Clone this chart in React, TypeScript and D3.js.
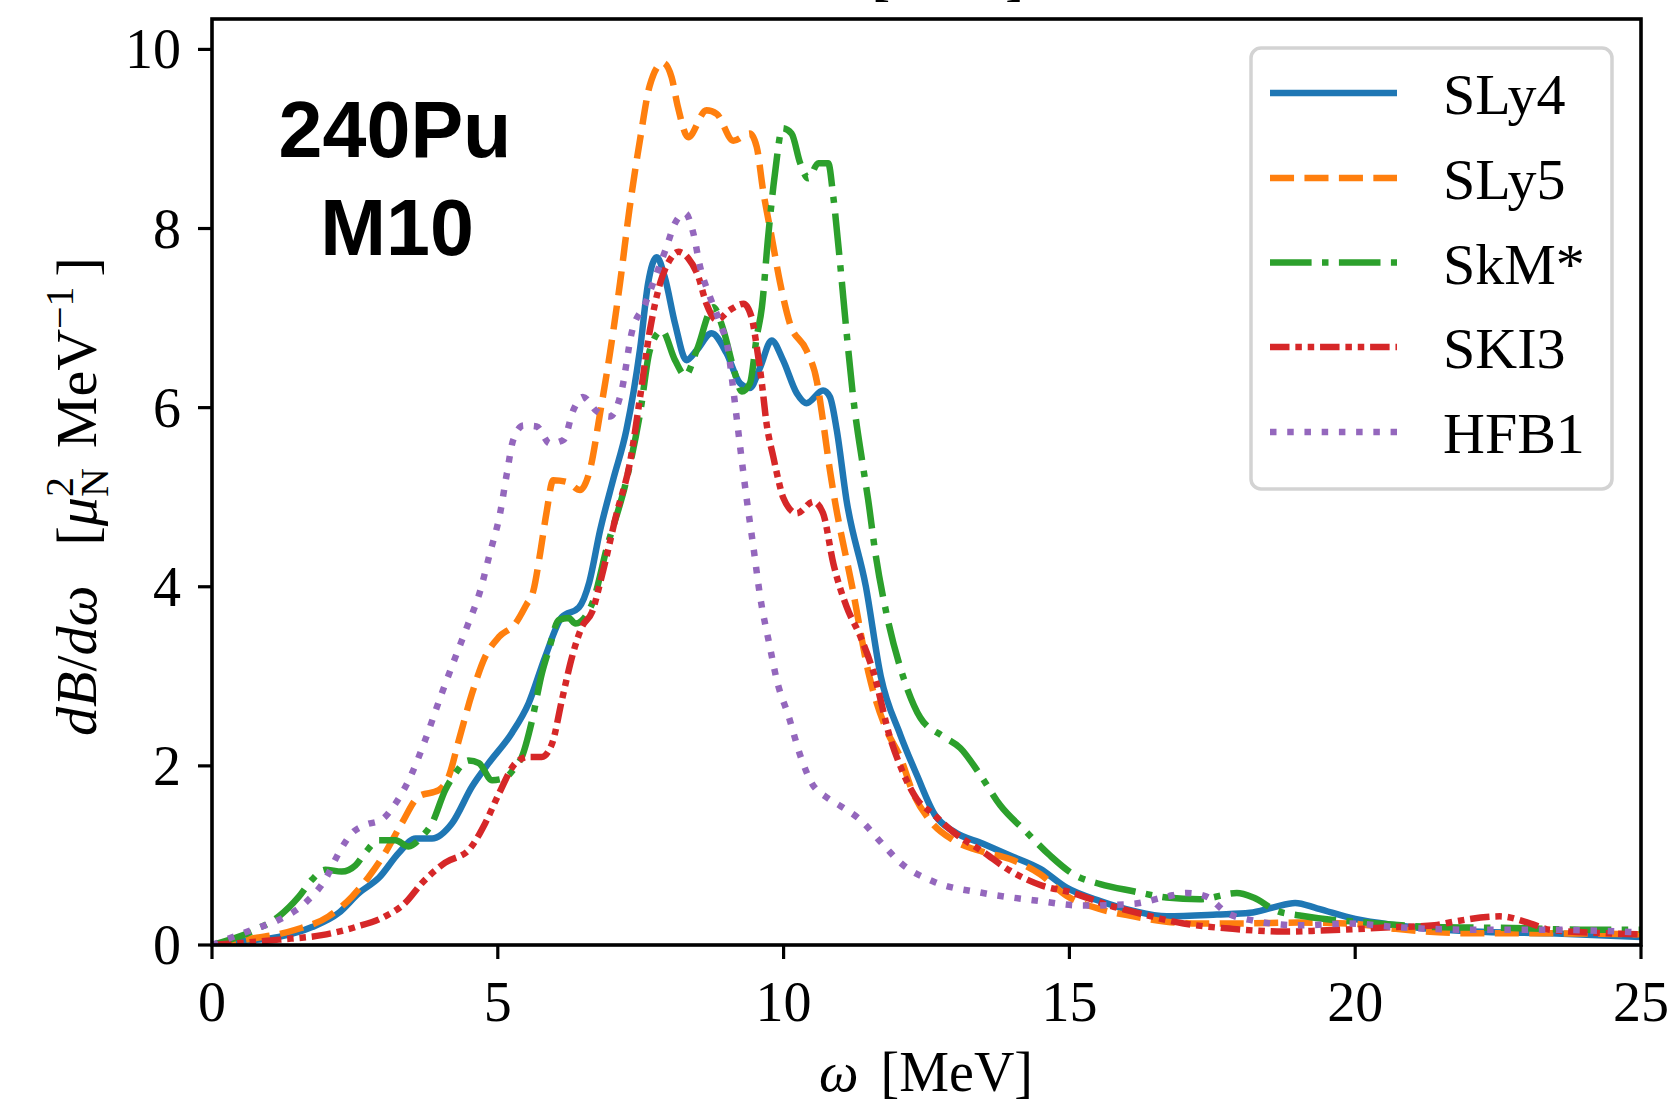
import React from "react";
import * as d3 from "d3";

type Pt = [number, number];

// ---- data (omega [MeV], dB/domega) ----
const SLY4: Pt[] = [
  [0, 0], [0.5, 0.04], [1.17, 0.09], [1.75, 0.2], [2.22, 0.36], [2.57, 0.58], [2.92, 0.75],
  [3.27, 1.03], [3.56, 1.19], [3.85, 1.19], [4.2, 1.36], [4.55, 1.77], [4.84, 2.03],
  [5.25, 2.37], [5.54, 2.7], [5.83, 3.22], [6.12, 3.66], [6.42, 3.77], [6.6, 4.05],
  [6.79, 4.63], [7.02, 5.2], [7.25, 5.75], [7.49, 6.66], [7.63, 7.39], [7.78, 7.68],
  [7.92, 7.46], [8.1, 6.94], [8.3, 6.53], [8.48, 6.64], [8.74, 6.83], [9.0, 6.61],
  [9.24, 6.27], [9.41, 6.22], [9.59, 6.45], [9.79, 6.75], [9.99, 6.53], [10.23, 6.16],
  [10.4, 6.05], [10.69, 6.19], [10.81, 6.12], [10.93, 5.75], [11.1, 4.97], [11.44, 4.0],
  [11.7, 3.0], [12.04, 2.35], [12.33, 1.9], [12.65, 1.45], [12.97, 1.27], [13.49, 1.13],
  [13.96, 1.0], [14.49, 0.85], [14.95, 0.64], [15.54, 0.49], [16.12, 0.38], [16.7, 0.32],
  [17.58, 0.34], [18.16, 0.36], [18.57, 0.42], [18.95, 0.47], [19.33, 0.41], [20.0, 0.29],
  [20.71, 0.22], [22.06, 0.15], [23.41, 0.13], [25.0, 0.09],
];

const SLY5: Pt[] = [
  [0, 0], [0.58, 0.06], [1.46, 0.17], [2.04, 0.32], [2.45, 0.54], [2.74, 0.76], [3.03, 1.03],
  [3.32, 1.36], [3.62, 1.66], [3.97, 1.73], [4.14, 1.88], [4.32, 2.29], [4.55, 2.81],
  [4.78, 3.22], [5.02, 3.44], [5.31, 3.59], [5.5, 3.8], [5.62, 3.95], [5.74, 4.37],
  [5.85, 4.82], [5.97, 5.19], [6.21, 5.17], [6.44, 5.08], [6.61, 5.3], [6.79, 5.94],
  [6.96, 6.6], [7.14, 7.4], [7.3, 8.2], [7.49, 9.0], [7.66, 9.6], [7.89, 9.85], [8.04, 9.69],
  [8.15, 9.36], [8.33, 9.02], [8.65, 9.32], [8.83, 9.28], [9.12, 8.98], [9.41, 9.06],
  [9.53, 8.91], [9.64, 8.43], [9.79, 7.91], [9.94, 7.39], [10.11, 6.94], [10.4, 6.64],
  [10.58, 6.3], [10.69, 5.85], [10.81, 5.3], [10.9, 4.95], [11.2, 4.0], [11.5, 3.0],
  [11.8, 2.4], [12.04, 2.1], [12.27, 1.69], [12.56, 1.39], [12.97, 1.17], [13.49, 1.04],
  [13.96, 0.96], [14.49, 0.79], [14.95, 0.55], [15.54, 0.4], [16.12, 0.32], [16.7, 0.26],
  [17.28, 0.24], [17.86, 0.24], [19.03, 0.25], [19.9, 0.24], [20.71, 0.18], [22.06, 0.13],
  [23.41, 0.13], [25.0, 0.12],
];

const SKMS: Pt[] = [
  [0, 0], [0.76, 0.17], [1.17, 0.32], [1.52, 0.54], [1.75, 0.73], [1.98, 0.84], [2.27, 0.82],
  [2.51, 0.89], [2.68, 1.03], [2.92, 1.17], [3.21, 1.17], [3.44, 1.1], [3.67, 1.21],
  [3.85, 1.36], [4.08, 1.73], [4.26, 1.92], [4.49, 2.06], [4.67, 2.03], [4.9, 1.84],
  [5.1, 1.86], [5.31, 1.99], [5.42, 2.1], [5.6, 2.51], [5.77, 3.03], [5.89, 3.29],
  [6.07, 3.63], [6.24, 3.65], [6.36, 3.59], [6.65, 3.81], [6.91, 4.44], [7.25, 5.19],
  [7.49, 5.94], [7.66, 6.64], [7.87, 6.86], [8.1, 6.53], [8.28, 6.36], [8.48, 6.64],
  [8.77, 7.12], [8.95, 6.86], [9.12, 6.45], [9.27, 6.18], [9.41, 6.27], [9.53, 6.79],
  [9.62, 7.12], [9.73, 7.91], [9.85, 8.62], [9.98, 9.12], [10.14, 9.06], [10.29, 8.73],
  [10.43, 8.56], [10.61, 8.73], [10.78, 8.73], [10.87, 8.35], [10.99, 7.6], [11.1, 6.85],
  [11.22, 6.1], [11.39, 5.34], [11.48, 4.97], [11.6, 4.4], [11.8, 3.7], [12.04, 3.1],
  [12.17, 2.85], [12.39, 2.54], [12.79, 2.33], [13.09, 2.2], [13.44, 1.9], [13.79, 1.56],
  [14.25, 1.26], [14.66, 1.0], [15.07, 0.79], [15.54, 0.68], [16.12, 0.6], [16.7, 0.53],
  [17.28, 0.51], [17.93, 0.58], [18.22, 0.53], [18.63, 0.38], [19.03, 0.33], [19.62, 0.28],
  [20.04, 0.26], [21.39, 0.2], [22.73, 0.19], [24.08, 0.17], [25.0, 0.17],
];

const SKI3: Pt[] = [
  [0, 0], [1.17, 0.06], [1.92, 0.11], [2.51, 0.2], [3.03, 0.32], [3.38, 0.47], [3.67, 0.69],
  [4.08, 0.92], [4.49, 1.06], [4.78, 1.36], [5.02, 1.69], [5.31, 2.03], [5.54, 2.1],
  [5.77, 2.1], [5.95, 2.25], [6.12, 2.73], [6.3, 3.22], [6.47, 3.55], [6.65, 3.72],
  [6.82, 4.12], [7.08, 4.82], [7.31, 5.38], [7.49, 6.12], [7.66, 6.86], [7.84, 7.39],
  [8.01, 7.65], [8.16, 7.74], [8.33, 7.67], [8.51, 7.46], [8.65, 7.16], [8.83, 6.98],
  [9.06, 7.09], [9.3, 7.16], [9.44, 7.01], [9.53, 6.68], [9.62, 6.27], [9.7, 5.83],
  [9.82, 5.45], [9.91, 5.19], [9.99, 5.0], [10.23, 4.82], [10.52, 4.95], [10.69, 4.82],
  [10.87, 4.26], [11.1, 3.78], [11.34, 3.45], [11.57, 3.05], [11.87, 2.3], [12.04, 2.0],
  [12.33, 1.63], [12.62, 1.46], [12.97, 1.26], [13.49, 1.04], [13.96, 0.83], [14.49, 0.67],
  [15.07, 0.58], [15.65, 0.45], [16.24, 0.35], [17.0, 0.24], [17.86, 0.18], [18.74, 0.15],
  [19.37, 0.16], [20.71, 0.2], [21.39, 0.22], [21.72, 0.26], [22.53, 0.32], [23.07, 0.24],
  [23.41, 0.17], [24.42, 0.13], [25.0, 0.12],
];

const HFB1: Pt[] = [
  [0, 0], [0.7, 0.17], [1.17, 0.28], [1.63, 0.47], [1.98, 0.73], [2.22, 1.03], [2.45, 1.25],
  [2.68, 1.34], [2.97, 1.4], [3.21, 1.58], [3.5, 1.92], [3.73, 2.29], [4.02, 2.81],
  [4.25, 3.2], [4.46, 3.55], [4.69, 3.95], [4.86, 4.37], [5.04, 4.82], [5.16, 5.27],
  [5.27, 5.64], [5.45, 5.8], [5.68, 5.79], [5.91, 5.6], [6.15, 5.64], [6.32, 5.97],
  [6.49, 6.12], [6.73, 5.96], [6.96, 5.9], [7.17, 6.2], [7.34, 6.83], [7.58, 7.16],
  [7.78, 7.5], [7.95, 7.79], [8.1, 8.06], [8.28, 8.17], [8.42, 7.95], [8.54, 7.57],
  [8.71, 7.24], [8.89, 6.94], [9.03, 6.64], [9.12, 6.2], [9.24, 5.56], [9.35, 5.0],
  [9.47, 4.45], [9.59, 3.89], [9.76, 3.33], [9.88, 2.96], [10.09, 2.55], [10.3, 2.1],
  [10.5, 1.8], [10.75, 1.65], [11.0, 1.55], [11.3, 1.42], [11.77, 1.1], [12.04, 0.92],
  [12.62, 0.71], [13.49, 0.58], [14.37, 0.5], [15.24, 0.44], [16.12, 0.46], [16.7, 0.54],
  [17.05, 0.58], [17.4, 0.54], [17.75, 0.36], [18.16, 0.28], [19.03, 0.22], [19.91, 0.24],
  [20.71, 0.2], [22.06, 0.17], [23.41, 0.17], [25.0, 0.14],
];

const SERIES_NAMES = ["SLy4", "SLy5", "SkM*", "SKI3", "HFB1"];
const SERIES_DATA = [SLY4, SLY5, SKMS, SKI3, HFB1];
const X_TICKS = [0, 5, 10, 15, 20, 25];
const Y_TICKS = [0, 2, 4, 6, 8, 10];

// ---- styling ----
const W = 1672;
const H = 1103;
const LEFT = 212;
const RIGHT = 1641;
const TOP = 19;
const BOTTOM = 945;
const LW = 6.5;
const COLORS = ["#1f77b4", "#ff7f0e", "#2ca02c", "#d62728", "#9467bd"];
const DASHES = [
  "none",
  `${3.7 * LW},${1.6 * LW}`,
  `${6.4 * LW},${1.6 * LW},${1 * LW},${1.6 * LW}`,
  `${3 * LW},${0.9 * LW},${1 * LW},${0.9 * LW},${1 * LW},${0.9 * LW}`,
  `${1 * LW},${1.65 * LW}`,
];
const SERIF = "'Liberation Serif', 'Times New Roman', Times, serif";
const SANS = "'Liberation Sans', Arial, Helvetica, sans-serif";
const FS = 56;

export default function App() {
  const x = d3.scaleLinear().domain([0, 25]).range([LEFT, RIGHT]);
  const y = d3.scaleLinear().domain([0, 10]).range([BOTTOM, 49.4]);
  const line = d3
    .line<Pt>()
    .x((d) => x(d[0]))
    .y((d) => y(d[1]))
    .curve(d3.curveMonotoneX);

  const legX0 = 1270;
  const legX1 = 1397;
  const legRows = [93, 178, 262.5, 347, 432];

  return (
    <svg
      width={W}
      height={H}
      viewBox={`0 0 ${W} ${H}`}
      style={{ position: "absolute", left: 0, top: 0, background: "#fff" }}
    >
      <rect x={0} y={0} width={W} height={H} fill="#fff" />
      <defs>
        <clipPath id="plotclip">
          <rect x={LEFT} y={TOP} width={RIGHT - LEFT} height={BOTTOM - TOP} />
        </clipPath>
      </defs>

      {/* partial label of the panel above (clipped by the page edge, as in the original) */}
      <text x={917} y={-6} fontFamily={SERIF} fontSize={FS} textAnchor="middle">
        <tspan fontStyle="italic">ω</tspan>
        <tspan dx={22}>[MeV]</tspan>
      </text>

      {/* curves */}
      <g clipPath="url(#plotclip)">
        {SERIES_DATA.map((d, i) => (
          <path
            key={SERIES_NAMES[i]}
            d={line(d) || ""}
            fill="none"
            stroke={COLORS[i]}
            strokeWidth={LW}
            strokeDasharray={DASHES[i]}
            strokeLinejoin="round"
            strokeLinecap={i === 0 ? "square" : "butt"}
          />
        ))}
      </g>

      {/* frame */}
      <rect
        x={LEFT}
        y={TOP}
        width={RIGHT - LEFT}
        height={BOTTOM - TOP}
        fill="none"
        stroke="#000"
        strokeWidth={3.6}
      />

      {/* x ticks */}
      {X_TICKS.map((t) => (
        <g key={"xt" + t}>
          <line x1={x(t)} x2={x(t)} y1={BOTTOM} y2={BOTTOM + 14} stroke="#000" strokeWidth={3.2} />
          <text x={x(t)} y={1021} textAnchor="middle" fontFamily={SERIF} fontSize={FS}>
            {t}
          </text>
        </g>
      ))}

      {/* y ticks */}
      {Y_TICKS.map((t) => (
        <g key={"yt" + t}>
          <line x1={LEFT - 14} x2={LEFT} y1={y(t)} y2={y(t)} stroke="#000" strokeWidth={3.2} />
          <text x={181} y={y(t) + 19} textAnchor="end" fontFamily={SERIF} fontSize={FS}>
            {t}
          </text>
        </g>
      ))}

      {/* x label */}
      <text x={926} y={1091} textAnchor="middle" fontFamily={SERIF} fontSize={FS}>
        <tspan fontStyle="italic">ω</tspan>
        <tspan dx={22}>[MeV]</tspan>
      </text>

      {/* y label */}
      <g transform="translate(96,736) rotate(-90)">
        <text x={0} y={0} textAnchor="start" fontFamily={SERIF} fontSize={58}>
          <tspan fontStyle="italic">dB</tspan>
          <tspan>/</tspan>
          <tspan fontStyle="italic">dω</tspan>
          <tspan dx={40}>[</tspan>
          <tspan fontStyle="italic">μ</tspan>
          <tspan fontSize={40} dy={-23}>2</tspan>
          <tspan fontSize={40} dx={-20} dy={35}>N</tspan>
          <tspan dx={20} dy={-12}>MeV</tspan>
          <tspan fontSize={40} dy={-23}>−1</tspan>
          <tspan dx={10} dy={23}>]</tspan>
        </text>
      </g>

      {/* annotation */}
      <text x={395} y={157} textAnchor="middle" fontFamily={SANS} fontWeight="bold" fontSize={79}>
        240Pu
      </text>
      <text x={397} y={255} textAnchor="middle" fontFamily={SANS} fontWeight="bold" fontSize={79}>
        M10
      </text>

      {/* legend */}
      <rect
        x={1251}
        y={48}
        width={361}
        height={441}
        rx={10}
        ry={10}
        fill="#fff"
        fillOpacity={0.8}
        stroke="#d3d3d3"
        strokeWidth={3.5}
      />
      {SERIES_NAMES.map((name, i) => (
        <g key={"leg" + name}>
          <line
            x1={legX0}
            x2={legX1}
            y1={legRows[i]}
            y2={legRows[i]}
            stroke={COLORS[i]}
            strokeWidth={LW}
            strokeDasharray={DASHES[i]}
            strokeLinecap="butt"
          />
          <text x={1443} y={legRows[i] + 21} fontFamily={SERIF} fontSize={58}>
            {name}
          </text>
        </g>
      ))}
    </svg>
  );
}
